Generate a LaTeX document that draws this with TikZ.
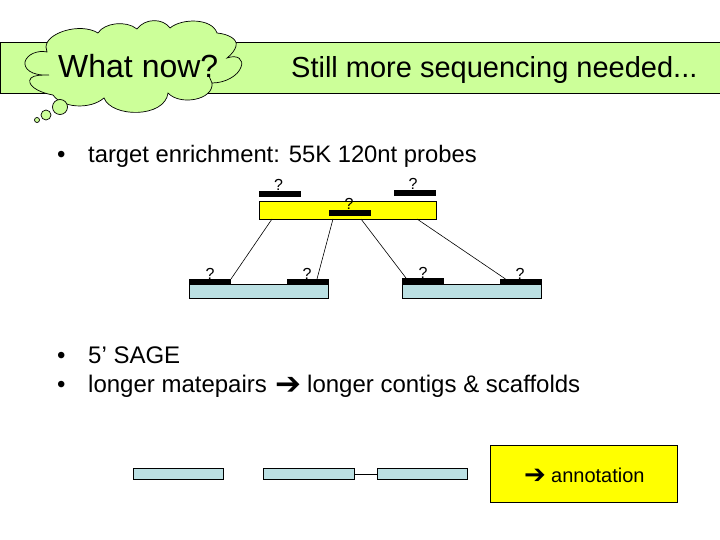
\documentclass[tikz,border=0pt]{standalone}
\usepackage{fontspec}
\setmainfont{Liberation Sans}
\newfontfamily\arrowfont{DejaVu Sans}
\definecolor{cloudgreen}{HTML}{CCFF99}
\definecolor{readblue}{HTML}{BBE0E3}
\definecolor{targetyellow}{HTML}{FFFF00}
\tikzset{
  box/.style={draw=black, line width=0.8pt, inner sep=0pt, outer sep=0pt, anchor=north west},
  probe/.style={fill=black, inner sep=0pt, outer sep=0pt, anchor=north west, minimum width=42pt, minimum height=6pt},
  quest/.style={font=\fontsize{16}{16}\selectfont, anchor=base, inner sep=0pt},
  bullet/.style={font=\fontsize{24}{24}\selectfont, anchor=base west, inner sep=0pt},
  arrowmark/.style={anchor=base west, inner sep=0pt},
  link/.style={draw=black, line width=0.6pt}
}
\begin{document}
\begin{tikzpicture}[x=1pt, y=-1pt]
  \useasboundingbox (0,0) rectangle (720,540);

  %% banner
  \node[box, fill=cloudgreen, line width=1pt, minimum width=722pt, minimum height=51pt] (banner) at (0,43) {};
  \node[anchor=base west, inner sep=0pt, font=\fontsize{29}{29}\selectfont] (still) at (291,78) {Still more sequencing needed...};

  %% cloud
  \draw[fill=cloudgreen, line width=0.7pt]
  (46,47) .. controls (46,33) and (80,22) .. (98,33)
  .. controls (104,23) and (126,20) .. (137,29)
  .. controls (145,18) and (163,18) .. (170,28)
  .. controls (182,18) and (212,18) .. (217,33)
  .. controls (228,34) and (238,39) .. (236,46)
  .. controls (235,50) and (232,54) .. (227,58)
  .. controls (238,54) and (244,60) .. (241,67)
  .. controls (238,76) and (225,83) .. (212,83)
  .. controls (214,100) and (180,106) .. (168,93)
  .. controls (165,118) and (112,118) .. (104,98)
  .. controls (90,110) and (62,108) .. (53,95)
  .. controls (36,92) and (26,84) .. (31,78)
  .. controls (34,75) and (42,75) .. (49,75)
  .. controls (30,76) and (24,68) .. (25,62)
  .. controls (27,54) and (38,50) .. (47,52)
  .. controls (46,50) and (46,49) .. (46,47) -- cycle;
  \draw[line width=0.7pt] (212,83) -- (209,76);
  \draw[fill=cloudgreen, line width=0.7pt] (60,107) circle[radius=7.5pt];
  \draw[fill=cloudgreen, line width=0.7pt] (46,115) circle[radius=5pt];
  \draw[fill=cloudgreen, line width=0.7pt] (37,120) circle[radius=2.5pt];
  \node[anchor=base west, inner sep=0pt, font=\fontsize{32}{32}\selectfont] (what) at (58,78) {What now?};

  %% bullets
  \node[bullet] (dotA) at (57,163) {•};
  \node[bullet, font=\fontsize{23.8}{24}\selectfont] (enrich) at (88,163) {target enrichment: 55K 120nt probes};
  \node[bullet] (dotB) at (57,363) {•};
  \node[bullet] (sage) at (88,363) {5’ SAGE};
  \node[bullet] (dotC) at (57,392) {•};
  \node[bullet] (mate) at (88,392) {longer matepairs};
  \node[arrowmark, font=\arrowfont\fontsize{31}{31}\selectfont] (arrowA) at (275,394) {➔};
  \node[bullet] (contigs) at (307,392) {longer contigs \& scaffolds};

  %% target and reads
  \node[box, fill=targetyellow, minimum width=177pt, minimum height=18pt] (target) at (259,201) {};
  \node[box, fill=readblue, minimum width=139pt, minimum height=14pt] (readA) at (189.5,284) {};
  \node[box, fill=readblue, minimum width=139pt, minimum height=14pt] (readB) at (402.5,284) {};

  %% probes
  \node[probe] (probeA) at (259,191) {};
  \node[probe] (probeB) at (393.5,190) {};
  \node[probe] (probeC) at (328.5,210) {};
  \node[probe, minimum height=5pt] (probeD) at (189,279) {};
  \node[probe, minimum height=5pt] (probeE) at (287,279) {};
  \node[probe] (probeF) at (402,278) {};
  \node[probe, minimum height=5pt] (probeG) at (499.5,279) {};

  \node[quest] (questA) at (278.5,191) {?};
  \node[quest] (questB) at (413,190) {?};
  \node[quest] (questC) at (349,210) {?};
  \node[quest] (questD) at (210,279) {?};
  \node[quest] (questE) at (307,279) {?};
  \node[quest] (questF) at (423,278) {?};
  \node[quest] (questG) at (520,279) {?};

  \draw[link] ([xshift=13pt]target.south west) -- (probeD.north east);
  \draw[link] ([xshift=74pt]target.south west) -- ([xshift=30pt]probeE.north west);
  \draw[link] ([xshift=102pt]target.south west) -- ([xshift=4pt]probeF.north west);
  \draw[link] ([xshift=158pt]target.south west) -- ([xshift=6pt]probeG.north west);

  %% bottom row
  \node[box, fill=readblue, minimum width=90pt, minimum height=11pt] (exonA) at (133.5,468.5) {};
  \node[box, fill=readblue, minimum width=91pt, minimum height=11pt] (exonB) at (263.5,468.5) {};
  \node[box, fill=readblue, minimum width=90pt, minimum height=11pt] (exonC) at (377.5,468.5) {};
  \draw[link] (exonB) -- (exonC);

  \node[box, fill=targetyellow, minimum width=187pt, minimum height=57pt] (annot) at (490.5,445.5) {};
  \node[arrowmark, font=\arrowfont\fontsize{26}{26}\selectfont] (arrowB) at (524,483.5) {➔};
  \node[arrowmark, font=\fontsize{20}{20}\selectfont] (annotext) at (551,482) {annotation};
\end{tikzpicture}
\end{document}
